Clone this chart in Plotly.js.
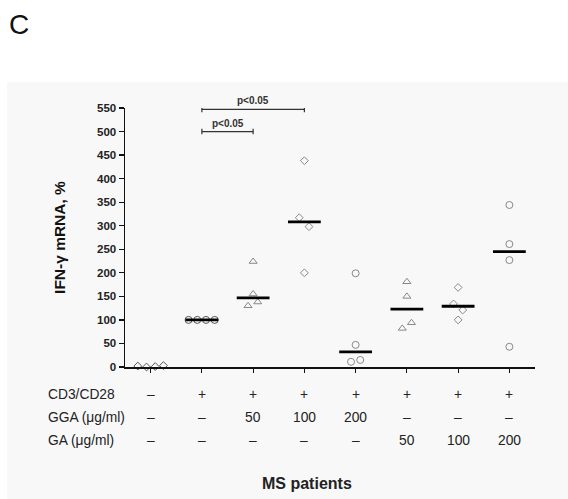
<!DOCTYPE html>
<html><head><meta charset="utf-8">
<script src="https://cdn.plot.ly/plotly-3.0.1.min.js"></script>
<style>html,body{margin:0;padding:0;background:#fff;}#chart{width:568px;height:499px;}</style>
</head><body><div id="chart"></div>
<script>
// Groups (x categories 0..7)
const groupIndex = [0,1,2,3,4,5,6,7];
const cd3Labels = ['–','+','+','+','+','+','+','+'];
const ggaLabels = ['–','–','50','100','200','–','–','–'];
const gaLabels  = ['–','–','–','–','–','50','100','200'];
const rowNames = ['CD3/CD28','GGA (μg/ml)','GA (μg/ml)'];
const yTicks = [0,50,100,150,200,250,300,350,400,450,500,550];

// Individual patient values per group
const values = [
  [2, 0, 1, 3],
  [100, 100, 100, 100],
  [224, 155, 130, 138],
  [438, 317, 298, 200],
  [199, 47, 11, 15],
  [181, 150, 82, 94],
  [169, 134, 121, 100],
  [344, 261, 227, 43]
];
// horizontal jitter of each point (category units)
const jitter = [
  [-0.25, -0.08, 0.09, 0.25],
  [-0.26, -0.09, 0.08, 0.25],
  [0, 0, -0.1, 0.09],
  [0, -0.1, 0.09, 0],
  [0, 0, -0.09, 0.09],
  [0, 0, -0.09, 0.09],
  [0, -0.09, 0.09, 0],
  [0, 0, 0, 0]
];
const medians = [null, 100, 147, 308, 32, 123, 129, 245];
const symbols = ['diamond-open','circle-open','triangle-up-open','diamond-open','circle-open','triangle-up-open','diamond-open','circle-open'];
const brackets = [ {from:1, to:3, y:547, label:'p<0.05'}, {from:1, to:2, y:500, label:'p<0.05'} ];

const FONT = 'Liberation Sans, Arial, sans-serif';
const traces = groupIndex.map((g,i)=>({
  type:'scatter', mode:'markers',
  x: values[i].map((v,k)=>g + jitter[i][k]),
  y: values[i],
  marker:{symbol:symbols[i], size: symbols[i]==='diamond-open'?6:7, color: i<=1?'#555':'#888', line:{width:1, color: i<=1?'#555':'#888'}},
  cliponaxis:false, showlegend:false, hoverinfo:'skip'
}));

const shapes = [];
// background panel
shapes.push({type:'rect', xref:'paper', yref:'paper', x0:-0.288, x1:1.09, y0:-0.52, y1:1.10, fillcolor:'#f8f8f8', line:{width:0}, layer:'below'});
medians.forEach((m,i)=>{ if(m!==null) shapes.push({type:'line', xref:'x', yref:'y', x0:groupIndex[i]-0.32, x1:groupIndex[i]+0.32, y0:m, y1:m, line:{color:'#000', width:2.8}, layer:'above'}); });
const capY = 12;
const annotations = [];
brackets.forEach(b=>{
  shapes.push({type:'line', xref:'x', yref:'y', x0:b.from, x1:b.to, y0:b.y, y1:b.y, line:{color:'#333', width:1.2}});
  shapes.push({type:'line', xref:'x', yref:'y', x0:b.from, x1:b.from, y0:b.y-capY/2, y1:b.y+capY/2, line:{color:'#333', width:1.2}});
  shapes.push({type:'line', xref:'x', yref:'y', x0:b.to, x1:b.to, y0:b.y-capY/2, y1:b.y+capY/2, line:{color:'#333', width:1.2}});
  annotations.push({xref:'x', yref:'y', x:(b.from+b.to)/2, y:b.y, text:'<b>'+b.label+'</b>', showarrow:false, yanchor:'bottom', yshift:1, font:{family:FONT, size:10, color:'#333'}});
});
const rows = [cd3Labels, ggaLabels, gaLabels];
const rowY = [-0.105, -0.195, -0.285];
rows.forEach((r,ri)=>{
  annotations.push({xref:'paper', yref:'paper', x:-0.192, y:rowY[ri], xanchor:'left', yanchor:'middle', text:rowNames[ri], showarrow:false, font:{family:FONT, size:13.8, color:'#222'}});
  r.forEach((t,i)=>annotations.push({xref:'x', yref:'paper', x:groupIndex[i], y:rowY[ri], xanchor:'center', yanchor:'middle', text:t, showarrow:false, font:{family:FONT, size:13.8, color:'#222'}}));
});
annotations.push({xref:'paper', yref:'paper', x:(307-125)/410, y:-0.45, xanchor:'center', yanchor:'middle', text:'<b>MS patients</b>', showarrow:false, font:{family:FONT, size:16, color:'#222'}});
annotations.push({xref:'paper', yref:'paper', x:-0.287, y:1.324, xanchor:'left', yanchor:'middle', text:'C', showarrow:false, font:{family:FONT, size:28, color:'#111'}});

const layout = {
  width:568, height:499,
  margin:{l:125, r:33, t:108, b:132},
  paper_bgcolor:'#ffffff', plot_bgcolor:'rgba(0,0,0,0)',
  xaxis:{range:[-0.5,7.5], tickvals:groupIndex, ticktext:groupIndex.map(()=>''), showgrid:false, zeroline:false, showline:true, linecolor:'#111', linewidth:1.5, ticks:'outside', ticklen:4, tickwidth:1.2, tickcolor:'#111', fixedrange:true},
  yaxis:{range:[0,550], tickvals:yTicks, ticktext:yTicks.map(v=>'<b>'+v+'</b>'), showgrid:false, zeroline:false, showline:true, linecolor:'#111', linewidth:1.5, ticks:'outside', ticklen:5, tickwidth:1.2, tickcolor:'#111', tickfont:{family:FONT, size:11.5, color:'#222'},
    title:{text:'<b>IFN-γ mRNA, %</b>', font:{family:FONT, size:15.5, color:'#111'}, standoff:27}},
  shapes:shapes, annotations:annotations, showlegend:false
};
Plotly.newPlot('chart', traces, layout, {staticPlot:true});
</script></body></html>
